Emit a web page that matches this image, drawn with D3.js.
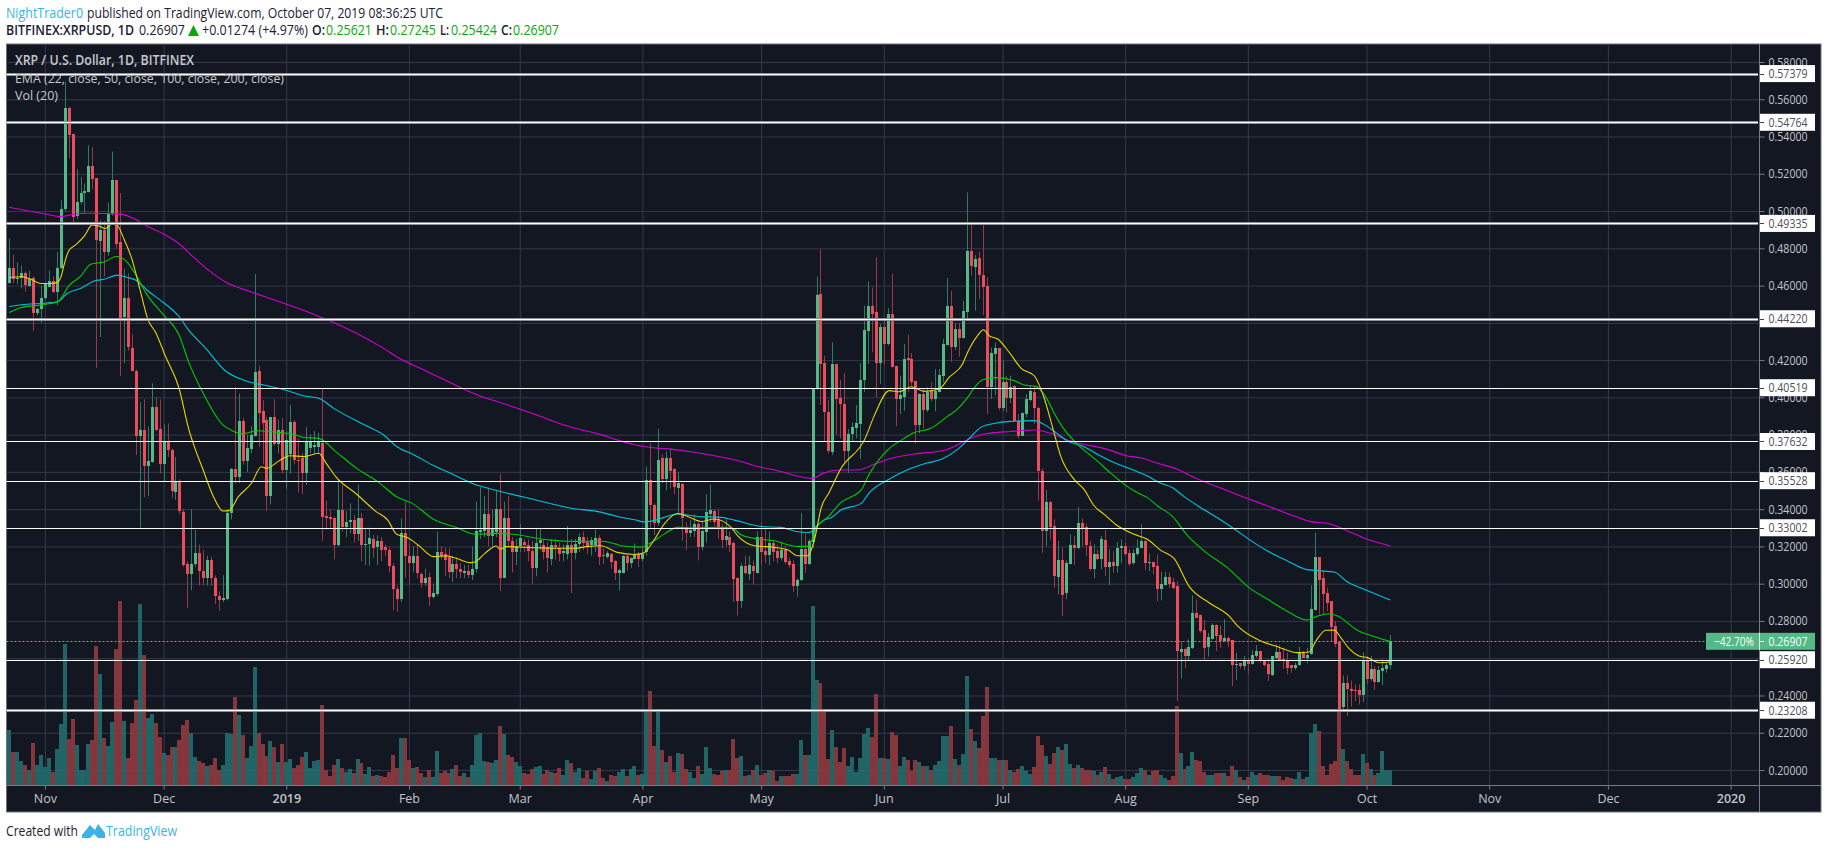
<!DOCTYPE html>
<meta charset="utf-8">
<style>
html, body { margin: 0; background: #fff; }
svg { display: block; }
text { font-family: "Open Sans", sans-serif; }
.grid line { stroke: #343949; }
.grid path { display: none; }
.price-axis path, .time-axis path { display: none; }
.price-axis line, .time-axis line { stroke: #787b86; }
.price-axis text, .time-axis text { fill: #c3c5cb; font-size: 12.5px; font-family: "Open Sans", sans-serif; }
</style>
<svg width="1828" height="849"></svg>
<script src="https://d3js.org/d3.v7.min.js"></script>
<script>

var firstBar = new Date(Date.UTC(2018, 9, 23));

var opens = [
.4615,.4697,.4634,.4640,.4665,.4600,.4640,.4453,.4473,.4536,
.4590,.4627,.4565,.4697,.5010,.5552,.5412,.4975,.5046,.5098,
.5100,.5240,.5177,.4840,.4897,.4779,.4982,.5165,.4832,.4430,
.4536,.4265,.4142,.3795,.3825,.3630,.3655,.3950,.3830,.3645,
.3766,.3718,.3490,.3545,.3385,.3104,.3050,.3105,.3167,.3070,
.3030,.3127,.3030,.2935,.2915,.2920,.3380,.3615,.3575,.3873,
.3660,.3725,.3795,.4142,.3925,.3877,.3470,.3893,.3750,.3825,
.3610,.3695,.3866,.3665,.3672,.3595,.3730,.3735,.3732,.3755,
.3362,.3360,.3350,.3210,.3395,.3305,.3330,.3340,.3265,.3350,
.3205,.3215,.3240,.3195,.3230,.3195,.3180,.3095,.2970,.2920,
.3270,.3150,.3110,.3150,.3050,.3005,.3037,.2930,.2945,.3170,
.3160,.3145,.3065,.3105,.3080,.3055,.3070,.3045,.3077,.3280,
.3283,.3372,.3255,.3280,.3400,.3032,.3350,.3230,.3170,.3200,
.3225,.3210,.3175,.3085,.3220,.3210,.3195,.3135,.3205,.3190,
.3165,.3160,.3210,.3165,.3215,.3250,.3225,.3205,.3205,.3245,
.3153,.3145,.3160,.3120,.3055,.3060,.3150,.3110,.3132,.3160,
.3135,.3168,.3556,.3425,.3325,.3674,.3560,.3674,.3615,.3515,
.3535,.3305,.3270,.3285,.3320,.3198,.3280,.3375,.3390,.3345,
.3300,.3235,.3250,.3218,.3030,.2908,.3095,.3050,.3095,.3060,
.3250,.3175,.3155,.3218,.3175,.3140,.3182,.3120,.3105,.2990,
.3020,.3185,.3105,.3225,.4050,.4555,.4184,.3920,.3708,.4179,
.3995,.3964,.3712,.3803,.3835,.3857,.4093,.4356,.4490,.4456,
.4184,.4377,.4286,.4447,.4168,.3991,.4002,.4211,.4206,.4088,
.3851,.4018,.3934,.4038,.3991,.4027,.4116,.4283,.4490,.4272,
.4367,.4317,.4460,.4785,.4702,.4748,.4657,.4598,.4054,.4234,
.4265,.3941,.4082,.3996,.4063,.3875,.3795,.3912,.3986,.4027,
.3943,.3607,.3283,.3438,.3308,.3036,.3125,.2948,.3104,.3206,
.3190,.3327,.3306,.3200,.3077,.3157,.3131,.3232,.3089,.3116,
.3095,.3190,.3200,.3163,.3109,.3157,.3190,.3227,.3109,.3118,
.3093,.2970,.2993,.3036,.3007,.2986,.2631,.2648,.2610,.2653,
.2841,.2830,.2750,.2660,.2701,.2776,.2723,.2690,.2707,.2698,
.2562,.2576,.2558,.2588,.2567,.2612,.2639,.2590,.2567,.2508,
.2602,.2633,.2597,.2590,.2563,.2545,.2562,.2626,.2603,.2621,
.2859,.3141,.3029,.2948,.2905,.2771,.2687,.2338,.2469,.2434,
.2429,.2429,.2402,.2583,.2487,.2544,.2474,.2532,.2544,.25621];

var closes = [
.4697,.4634,.4640,.4665,.4602,.4635,.4453,.4473,.4536,.4606,
.4627,.4565,.4695,.5013,.5552,.5407,.4968,.5046,.5098,.5105,
.5240,.5171,.4845,.4897,.4779,.4983,.5165,.4822,.4427,.4536,
.4270,.4142,.3795,.3825,.3633,.3660,.3950,.3825,.3645,.3768,
.3715,.3495,.3545,.3390,.3100,.3052,.3107,.3167,.3068,.3030,
.3127,.3030,.2935,.2915,.2925,.3378,.3615,.3575,.3873,.3660,
.3730,.3800,.4138,.3915,.3865,.3470,.3893,.3750,.3825,.3610,
.3770,.3866,.3665,.3660,.3595,.3760,.3765,.3745,.3760,.3357,
.3352,.3345,.3210,.3395,.3305,.3330,.3340,.3265,.3350,.3205,
.3215,.3245,.3190,.3230,.3180,.3180,.3095,.2970,.2920,.3270,
.3150,.3110,.3150,.3055,.3005,.3030,.2930,.2950,.3170,.3150,
.3125,.3065,.3105,.3080,.3065,.3070,.3045,.3080,.3282,.3288,
.3372,.3255,.3300,.3400,.3032,.3350,.3230,.3170,.3200,.3245,
.3205,.3175,.3085,.3220,.3235,.3170,.3140,.3210,.3195,.3160,
.3175,.3205,.3165,.3215,.3250,.3220,.3200,.3235,.3245,.3145,
.3150,.3165,.3115,.3055,.3075,.3150,.3110,.3137,.3158,.3135,
.3158,.3556,.3422,.3325,.3663,.3561,.3674,.3605,.3517,.3540,
.3355,.3270,.3287,.3320,.3198,.3285,.3383,.3395,.3330,.3300,
.3235,.3255,.3210,.3025,.2908,.3095,.3057,.3100,.3067,.3250,
.3170,.3155,.3218,.3172,.3140,.3180,.3115,.3100,.2990,.3020,
.3185,.3105,.3230,.4050,.4550,.4179,.3920,.3712,.4179,.3990,
.3964,.3710,.3803,.3843,.3862,.4093,.4361,.4490,.4447,.4184,
.4377,.4286,.4447,.4165,.3991,.4013,.4204,.4199,.4081,.3851,
.4018,.3934,.4027,.3991,.4036,.4120,.4286,.4490,.4272,.4367,
.4317,.4463,.4785,.4705,.4743,.4657,.4594,.4054,.4238,.4265,
.3941,.4082,.3996,.4054,.3875,.3790,.3916,.3991,.4034,.3943,
.3607,.3283,.3438,.3304,.3041,.3125,.2939,.3109,.3206,.3190,
.3327,.3301,.3206,.3077,.3157,.3131,.3238,.3089,.3116,.3095,
.3190,.3200,.3157,.3104,.3163,.3193,.3227,.3109,.3118,.3089,
.2970,.2996,.3036,.3000,.2975,.2639,.2648,.2610,.2658,.2841,
.2818,.2744,.2656,.2712,.2776,.2717,.2692,.2707,.2690,.2562,
.2571,.2558,.2588,.2567,.2615,.2639,.2590,.2563,.2513,.2612,
.2633,.2590,.2585,.2549,.2545,.2563,.2626,.2603,.2615,.2862,
.3141,.3018,.2943,.2898,.2767,.2674,.2329,.2465,.2434,.2424,
.2424,.2402,.2583,.2487,.2540,.2472,.2535,.2547,.2562,.26907];

var highs = [
.4852,.4767,.4725,.4708,.4675,.4680,.4650,.4480,.4600,.4615,
.4680,.4650,.4780,.5057,.5693,.5560,.5412,.5224,.5183,.5148,
.5353,.5343,.5177,.4950,.4945,.5046,.5319,.5165,.5097,.4690,
.4665,.4340,.4150,.3975,.3990,.3843,.4075,.4000,.3990,.3855,
.3860,.3725,.3680,.3560,.3400,.3120,.3400,.3290,.3210,.3180,
.3150,.3145,.3045,.2960,.3045,.3400,.3620,.4055,.4020,.3890,
.3800,.3845,.4662,.4170,.3985,.3895,.3895,.3990,.3880,.3890,
.3820,.3960,.3880,.3780,.3700,.3840,.3800,.3820,.3810,.4050,
.3445,.3400,.3360,.3560,.3530,.3390,.3430,.3370,.3530,.3380,
.3300,.3300,.3260,.3260,.3250,.3210,.3200,.3110,.2990,.3350,
.3440,.3220,.3200,.3210,.3060,.3080,.3060,.3000,.3280,.3200,
.3190,.3190,.3150,.3140,.3110,.3100,.3100,.3200,.3440,.3517,
.3470,.3510,.3400,.3500,.3590,.3440,.3470,.3250,.3240,.3320,
.3240,.3240,.3230,.3300,.3300,.3240,.3220,.3240,.3240,.3220,
.3210,.3310,.3240,.3240,.3270,.3280,.3250,.3250,.3290,.3260,
.3190,.3175,.3165,.3125,.3080,.3155,.3155,.3140,.3215,.3170,
.3200,.3628,.3755,.3430,.3830,.3695,.3710,.3725,.3620,.3600,
.3540,.3330,.3340,.3370,.3330,.3330,.3480,.3530,.3400,.3400,
.3320,.3350,.3280,.3225,.3035,.3110,.3150,.3150,.3125,.3280,
.3330,.3300,.3280,.3230,.3210,.3225,.3200,.3140,.3125,.3030,
.3380,.3266,.3240,.4050,.4648,.4793,.4224,.3985,.4295,.4180,
.4095,.4130,.3830,.3866,.3959,.4184,.4492,.4623,.4590,.4751,
.4394,.4410,.4478,.4662,.4170,.4116,.4286,.4335,.4238,.4088,
.4020,.4045,.4054,.4081,.4152,.4152,.4313,.4641,.4572,.4399,
.4399,.4519,.5100,.4936,.4764,.4782,.4936,.4644,.4268,.4295,
.4265,.4197,.4116,.4116,.4065,.3911,.3920,.4018,.4063,.4059,
.3950,.3620,.3503,.3444,.3345,.3229,.3193,.3125,.3265,.3256,
.3412,.3351,.3322,.3229,.3211,.3184,.3256,.3288,.3184,.3175,
.3224,.3238,.3220,.3184,.3184,.3238,.3318,.3238,.3163,.3118,
.3157,.3064,.3064,.3059,.3032,.3014,.2687,.2656,.2701,.2937,
.2916,.2835,.2805,.2737,.2787,.2782,.2776,.2809,.2716,.2698,
.2630,.2576,.2612,.2603,.2644,.2671,.2639,.2590,.2594,.2612,
.2674,.2669,.2656,.2630,.2563,.2576,.2662,.2639,.2656,.2991,
.3274,.3141,.3068,.2979,.2905,.2800,.2687,.2508,.2508,.2481,
.2460,.2460,.2630,.2612,.2612,.2558,.2558,.2594,.2576,.27245];

var lows = [
.4610,.4613,.4610,.4585,.4567,.4595,.4356,.4440,.4400,.4525,
.4590,.4560,.4495,.4690,.5000,.5284,.4935,.4959,.5035,.4990,
.5100,.5117,.4158,.4324,.4648,.4760,.4975,.4800,.4115,.4184,
.4250,.4210,.3691,.3300,.3465,.3470,.3650,.3820,.3590,.3545,
.3680,.3460,.3450,.3375,.3090,.2870,.2965,.3090,.2990,.2990,
.2990,.2990,.2890,.2855,.2900,.2910,.3345,.3535,.3540,.3640,
.3600,.3700,.3790,.3735,.3640,.3390,.3425,.3740,.3700,.3590,
.3510,.3590,.3640,.3490,.3480,.3530,.3700,.3700,.3700,.3230,
.3290,.3300,.3130,.3200,.3280,.3250,.3270,.3220,.3230,.3120,
.3100,.3097,.3140,.3100,.3120,.3150,.3060,.2858,.2849,.2900,
.3030,.3000,.3060,.3030,.2980,.2990,.2880,.2920,.2935,.3130,
.3040,.3030,.3010,.3030,.3030,.3030,.3030,.3020,.3060,.3240,
.3250,.3200,.3200,.3250,.2960,.3030,.3200,.3060,.3100,.3170,
.3170,.3120,.3000,.3040,.3180,.3130,.3060,.3100,.3130,.3120,
.3120,.3130,.2950,.3130,.3170,.3180,.3160,.3150,.3170,.3100,
.3105,.3135,.3080,.3020,.2965,.3055,.3070,.3085,.3130,.3090,
.3120,.3150,.3293,.3260,.3310,.3540,.3500,.3510,.3480,.3370,
.3230,.3180,.3250,.3250,.3125,.3180,.3220,.3330,.3310,.3240,
.3190,.3200,.3170,.2900,.2828,.2870,.3050,.3020,.2995,.3055,
.3100,.3110,.3100,.3120,.3110,.3125,.3105,.3085,.2955,.2930,
.3015,.3060,.3100,.3190,.4040,.3960,.3760,.3700,.3690,.3800,
.3780,.3650,.3594,.3760,.3780,.3670,.4030,.4180,.4242,.4000,
.4072,.4179,.4277,.4160,.3844,.3911,.3928,.4027,.4063,.3750,
.3807,.3834,.3921,.3977,.3925,.4027,.4081,.4277,.4191,.4254,
.4218,.4317,.4412,.4653,.4465,.4528,.4442,.3911,.3991,.4013,
.3930,.3928,.3919,.3970,.3875,.3780,.3795,.3893,.3980,.3857,
.3445,.3166,.3202,.3238,.2978,.2943,.2826,.2916,.3104,.3100,
.3184,.3200,.3149,.3070,.3029,.3127,.3077,.3041,.2993,.3059,
.3059,.3109,.3150,.3095,.3100,.3150,.3190,.3073,.3068,.3050,
.2907,.2911,.2990,.2979,.2970,.2370,.2490,.2549,.2590,.2650,
.2815,.2737,.2585,.2608,.2700,.2639,.2656,.2688,.2660,.2451,
.2483,.2544,.2537,.2513,.2565,.2603,.2576,.2555,.2478,.2505,
.2594,.2585,.2544,.2513,.2522,.2537,.2560,.2600,.2572,.2618,
.2855,.2835,.2835,.2853,.2687,.2660,.2308,.2311,.2290,.2340,
.2370,.2352,.2365,.2460,.2480,.2429,.2468,.2454,.2522,.25424];

var volumes = [
166,98,100,73,61,44,126,61,91,54,
82,38,109,184,424,139,198,121,44,46,
122,136,418,334,142,118,190,409,553,193,
82,187,256,544,391,202,214,187,145,97,
91,115,115,136,181,196,156,85,73,67,
58,61,82,46,61,155,152,265,211,151,
82,118,355,157,124,88,133,115,70,124,
70,79,52,61,85,100,52,73,76,241,
46,28,61,79,52,40,49,37,79,67,
34,55,28,31,28,25,40,91,52,142,
142,76,52,55,37,25,46,25,103,37,
43,37,49,61,28,37,25,61,151,157,
73,70,67,76,178,154,91,85,70,58,
37,34,49,55,58,34,46,40,37,52,
31,76,67,40,52,22,43,19,43,52,
21,13,30,28,38,48,28,48,58,31,
34,228,283,118,221,106,70,86,38,96,
94,48,38,22,58,34,114,52,34,31,
41,44,46,138,82,88,26,31,44,61,
31,36,46,41,13,28,28,26,34,34,
136,91,91,538,314,307,221,78,166,114,
68,111,58,84,38,82,154,172,144,274,
80,82,78,160,150,58,84,76,41,76,
69,58,58,44,61,71,148,148,178,78,
61,94,328,168,133,112,206,294,81,81,
74,74,76,46,38,48,58,41,34,54,
148,121,88,64,96,114,106,122,64,51,
61,51,46,46,41,31,38,54,34,18,
24,26,19,19,24,36,52,44,31,41,
44,30,21,14,28,238,97,48,58,100,
76,71,40,31,31,36,36,36,28,56,
46,24,16,24,40,31,36,31,31,28,
28,28,16,24,21,19,40,19,24,156,
184,163,56,31,63,73,226,109,73,48,
31,31,94,66,48,31,36,103,46,44];

// [bar number, price]
var ema22 = [[0,.4643],[3,.4647],[5,.4638],[8,.4611],[10,.4611],[12,.4616],[13,.4643],[14,.4724],[15,.4786],[17,.4822],[19,.4867],[21,.4926],[23,.4917],[24.3,.4906],[26,.4931],[27,.4929],[29,.4849],[31,.4742],[33,.4581],[35,.4420],[37,.4348],[39.5,.4219],[42.9,.4049],[45.3,.3834],[49,.3610],[51.6,.3467],[54,.3390],[55.5,.3392],[57.9,.3467],[61.2,.3539],[63.7,.3628],[65,.3619],[68.5,.3664],[70.9,.3687],[74.3,.3682],[78.2,.3700],[80.1,.3646],[82.5,.3575],[87.8,.3480],[92.7,.3387],[95.6,.3342],[97.9,.3265],[100.4,.3249],[103.3,.3208],[107.2,.3145],[110.6,.3149],[113,.3136],[116.4,.3113],[117.8,.3118],[120.2,.3163],[123.1,.3202],[124,.3185],[125.6,.3199],[133.3,.3193],[140,.3190],[143,.3190],[145.9,.3199],[149.5,.3204],[153.7,.3168],[158,.3157],[160.2,.3164],[163,.3236],[165.5,.3320],[168.9,.3377],[171.4,.3361],[174.8,.3334],[178.2,.3347],[182.4,.3302],[184.1,.3257],[188.3,.3204],[193.3,.3195],[196.7,.3182],[199.2,.3150],[201.8,.3150],[203.5,.3239],[205.2,.3409],[207.2,.3490],[210,.3612],[216.3,.3780],[218.6,.3902],[222.4,.4036],[224.9,.4030],[227.9,.4057],[231.2,.4032],[235,.4045],[237.5,.4107],[240.9,.4179],[242.2,.4242],[244.7,.4331],[246.2,.4363],[247.6,.4331],[249.8,.4313],[253,.4233],[255.7,.4156],[259,.4116],[261.6,.3991],[264,.3812],[265.7,.3685],[269.1,.3560],[271.6,.3506],[274.2,.3417],[276.7,.3372],[279.6,.3318],[284.3,.3265],[287.6,.3238],[291,.3179],[294.4,.3134],[298.2,.2984],[303.2,.2898],[308.3,.2826],[310.4,.2773],[316.3,.2692],[320.5,.2662],[325.5,.2630],[328.5,.2633],[330.2,.2692],[332.7,.2750],[334.8,.2751],[336.5,.2710],[338.6,.2651],[341.1,.2612],[343.2,.2603],[346.2,.2576],[348.7,.2580],[349,.2588]];

var ema50 = [[0,.4455],[3,.4482],[8,.4496],[12.2,.4513],[15.2,.4602],[18,.4649],[20.6,.4715],[24,.4727],[27,.4756],[29.5,.4733],[31.6,.4670],[35,.4545],[39.2,.4437],[42.9,.4335],[45.3,.4192],[49,.4022],[54,.3852],[56,.3825],[58.8,.3804],[62.7,.3821],[68,.3812],[72.4,.3798],[74.3,.3785],[78.2,.3780],[82.5,.3709],[87.8,.3619],[93.1,.3548],[97.9,.3467],[101.8,.3431],[107.2,.3346],[113,.3301],[117.8,.3265],[123.6,.3270],[128.9,.3261],[133.3,.3244],[143,.3227],[149.5,.3228],[152,.3220],[154.6,.3204],[159.6,.3196],[162,.3218],[165.5,.3266],[168.9,.3302],[172.3,.3300],[179.9,.3302],[182.8,.3297],[184.9,.3263],[188.3,.3243],[193.3,.3230],[199.2,.3200],[201.8,.3200],[204.3,.3311],[206.8,.3356],[210.2,.3436],[215.3,.3503],[217.2,.3583],[222,.3718],[226.2,.3780],[228.3,.3807],[232.9,.3834],[237.1,.3898],[239.6,.3937],[242.2,.4000],[244.3,.4063],[246,.4095],[249.3,.4106],[254,.4089],[256.5,.4066],[259.4,.4059],[262,.4000],[264,.3918],[266.6,.3828],[269.5,.3757],[275,.3658],[278.4,.3592],[284.3,.3497],[287.6,.3462],[290.2,.3417],[294,.3360],[297.7,.3259],[302,.3175],[307.8,.3086],[313.3,.2979],[318,.2916],[322.2,.2862],[328,.2805],[330.6,.2826],[333.5,.2839],[335.7,.2826],[340.7,.2750],[344.9,.2716],[349,.2689]];

var ema100 = [[0,.4488],[4.6,.4500],[8,.4504],[12.2,.4513],[14.7,.4559],[18,.4584],[21.5,.4625],[24,.4634],[27.4,.4656],[29.9,.4643],[32,.4629],[35,.4572],[39.2,.4505],[42.9,.4434],[45.3,.4362],[49.6,.4264],[54.5,.4144],[59.8,.4088],[65.6,.4061],[70.4,.4036],[74.3,.4009],[78.2,.3995],[82,.3941],[89.8,.3852],[94.6,.3798],[97.9,.3736],[102.3,.3691],[107.2,.3634],[111,.3598],[116.9,.3539],[122.7,.3503],[132.3,.3453],[142,.3405],[149.5,.3384],[153.7,.3361],[158,.3343],[160.5,.3332],[163.4,.3341],[165.5,.3356],[168.9,.3374],[174,.3361],[179.9,.3356],[183.3,.3341],[190,.3307],[195,.3302],[199.2,.3279],[202.2,.3275],[204.3,.3315],[206,.3343],[207.7,.3354],[210.2,.3395],[215.3,.3431],[217.2,.3485],[222,.3557],[226.9,.3610],[231.7,.3646],[235.6,.3668],[239.5,.3718],[242.6,.3780],[245.5,.3839],[248.9,.3860],[253,.3871],[259,.3875],[261.5,.3855],[264.5,.3811],[267.4,.3766],[271.2,.3739],[275.8,.3685],[279.6,.3646],[284.3,.3608],[287.6,.3578],[291,.3539],[294,.3515],[296.9,.3467],[301.1,.3408],[305.3,.3354],[309.5,.3295],[313.3,.3238],[318,.3175],[323,.3122],[327.6,.3077],[330.6,.3070],[334.8,.3063],[338.2,.3009],[342.4,.2970],[349,.2912]];

var ema200 = [[0,.5020],[4.6,.5002],[9.5,.4983],[12.9,.4970],[16.2,.4983],[20.1,.4988],[27.9,.4985],[31.3,.4961],[35.1,.4916],[39.5,.4872],[43.3,.4818],[46.2,.4759],[50.1,.4687],[54.9,.4616],[61.2,.4566],[67,.4523],[75.3,.4460],[80.1,.4419],[94.6,.4263],[98.5,.4210],[104.3,.4152],[110.1,.4093],[118.3,.4013],[124.6,.3968],[133.3,.3905],[141,.3846],[149.5,.3800],[153.7,.3771],[158,.3746],[162.2,.3731],[167.2,.3722],[172.3,.3708],[178.2,.3687],[184.9,.3656],[188.3,.3633],[194.2,.3606],[200.9,.3570],[203,.3565],[205.6,.3592],[210,.3610],[214.3,.3610],[219.2,.3646],[223,.3673],[228.8,.3696],[236.6,.3718],[243,.3780],[246.4,.3803],[253,.3817],[259.2,.3825],[263.2,.3807],[267.4,.3771],[271.6,.3748],[277.5,.3721],[282.6,.3685],[285.9,.3676],[290.2,.3646],[295.2,.3614],[298.6,.3578],[305.3,.3520],[311.2,.3471],[318,.3417],[324.7,.3363],[328.9,.3333],[333.1,.3324],[338.2,.3283],[343.2,.3238],[349,.3202]];

var priceTicks = [.58,.56,.54,.52,.50,.48,.46,.44,.42,.40,.38,.36,.34,.32,.30,.28,.26,.24,.22,.20];
var thickLevels = [.57379,.54764,.49335,.44220,.23208];
var thinLevels = [.40519,.37632,.35528,.33002,.25920];
var lastPrice = .26907;
var monthTicks = ["2018-11-01","2018-12-01","2019-01-01","2019-02-01","2019-03-01","2019-04-01","2019-05-01","2019-06-01","2019-07-01","2019-08-01","2019-09-01","2019-10-01","2019-11-01","2019-12-01","2020-01-01"];
var monthLabels = ["Nov","Dec","2019","Feb","Mar","Apr","May","Jun","Jul","Aug","Sep","Oct","Nov","Dec","2020"];

var svg = d3.select("svg");

var plotLeft = 6.5, plotRight = 1759, plotTop = 44, paneBottom = 785, plotBottom = 812, frameRight = 1821;

var x = d3.scaleUtc()
    .domain([new Date("2018-11-01"), new Date("2020-01-01")])
    .range([44.9, 1730.6]);
var y = d3.scaleLinear().domain([.2, .58]).range([770, 62]);
var v = d3.scaleLinear().domain([0, 553]).range([paneBottom, paneBottom - 184.3]);

function barX(i) { return x(new Date(firstBar.getTime() + i * 864e5)); }
function crispY(p) { return Math.round(y(p)) + .5; }

var up = "#53b987", down = "#eb4d5c";

svg.append("rect").attr("x", plotLeft).attr("y", plotTop).attr("width", frameRight - plotLeft).attr("height", plotBottom - plotTop)
    .attr("fill", "#131722").attr("stroke", "#6f727c");

// grid
svg.append("g").attr("class", "grid").attr("transform", "translate(" + plotRight + ",0)")
    .call(d3.axisLeft(y).tickValues(priceTicks).tickSize(plotRight - plotLeft).tickFormat(""));
svg.append("g").attr("class", "grid").attr("transform", "translate(0," + paneBottom + ")")
    .call(d3.axisBottom(x).tickValues(monthTicks.map(function(d) { return new Date(d); })).tickSize(plotTop - paneBottom).tickFormat(""));

// volume
svg.append("g").selectAll("rect").data(volumes).enter().append("rect")
    .attr("x", function(d, i) { return barX(i) - 2; })
    .attr("y", function(d) { return v(d); })
    .attr("width", 4)
    .attr("height", function(d) { return paneBottom - v(d); })
    .attr("fill", function(d, i) { return closes[i] >= opens[i] ? "#226a6a" : "#8c3a3e"; })
    .attr("fill-opacity", .93)
    .style("shape-rendering", "crispEdges");

// candles
var candles = svg.append("g");
candles.selectAll("line").data(opens).enter().append("line")
    .attr("x1", function(d, i) { return Math.round(barX(i)) + .5; })
    .attr("x2", function(d, i) { return Math.round(barX(i)) + .5; })
    .attr("y1", function(d, i) { return y(highs[i]); })
    .attr("y2", function(d, i) { return y(lows[i]); })
    .attr("stroke", function(d, i) { return closes[i] >= d ? "#2f7a63" : "#96394a"; });
candles.selectAll("rect").data(opens).enter().append("rect")
    .attr("x", function(d, i) { return Math.round(barX(i)) - 1; })
    .attr("y", function(d, i) { return y(Math.max(d, closes[i])); })
    .attr("width", 3)
    .attr("height", function(d, i) { return Math.max(1, Math.abs(y(d) - y(closes[i]))); })
    .attr("fill", function(d, i) { return closes[i] >= d ? up : down; })
    .style("shape-rendering", "crispEdges");

// moving averages
var line = d3.line()
    .x(function(d) { return barX(d[0]); })
    .y(function(d) { return y(d[1]); })
    .curve(d3.curveMonotoneX);
[[ema200, "#d400d4"], [ema100, "#00c4dc"], [ema50, "#00cc00"], [ema22, "#e6d600"]].forEach(function(e) {
  svg.append("path").attr("d", line(e[0])).attr("fill", "none").attr("stroke", e[1]).attr("stroke-width", 1.1);
});

// last price line
svg.append("line").attr("x1", plotLeft).attr("x2", 1706).attr("y1", crispY(lastPrice)).attr("y2", crispY(lastPrice))
    .attr("stroke", up).attr("stroke-dasharray", "2 2");

// price axis
svg.append("line").attr("x1", plotRight + .5).attr("x2", plotRight + .5).attr("y1", plotTop).attr("y2", plotBottom).attr("stroke", "#787b86");
svg.append("line").attr("x1", plotLeft).attr("x2", frameRight).attr("y1", paneBottom + .5).attr("y2", paneBottom + .5).attr("stroke", "#787b86");
svg.append("g").attr("class", "price-axis").attr("transform", "translate(" + (plotRight + .5) + ",0)")
    .call(d3.axisRight(y).tickValues(priceTicks).tickSize(5).tickPadding(4).tickFormat(d3.format(".5f")));
svg.selectAll(".price-axis text").attr("textLength", 39).attr("lengthAdjust", "spacingAndGlyphs");
svg.append("g").attr("class", "time-axis").attr("transform", "translate(0," + (paneBottom + .5) + ")")
    .call(d3.axisBottom(x).tickValues(monthTicks.map(function(d) { return new Date(d); })).tickSize(4).tickPadding(5)
        .tickFormat(function(d, i) { return monthLabels[i]; }));
svg.selectAll(".time-axis text").style("font-weight", function(d, i) { return monthLabels[i].length == 4 ? 600 : 400; });

// fits a label to the width it has in the reference, the face there is narrower than Open Sans
function label(xPos, yPos, str, len, color, size, weight) {
  return svg.append("text").attr("x", xPos).attr("y", yPos).attr("fill", color)
      .attr("textLength", len).attr("lengthAdjust", "spacingAndGlyphs")
      .style("font-size", size + "px").style("font-weight", weight || 400).text(str);
}

// support / resistance levels
thickLevels.forEach(function(p) {
  svg.append("line").attr("x1", plotLeft).attr("x2", plotRight - 1).attr("y1", crispY(p)).attr("y2", crispY(p)).attr("stroke", "#8d8f94").attr("stroke-width", 3);
  svg.append("line").attr("x1", plotLeft).attr("x2", plotRight - 1).attr("y1", crispY(p)).attr("y2", crispY(p)).attr("stroke", "#fff").attr("stroke-width", 1);
});
thinLevels.forEach(function(p) {
  svg.append("line").attr("x1", plotLeft).attr("x2", plotRight - 1).attr("y1", crispY(p)).attr("y2", crispY(p)).attr("stroke", "#fff").attr("stroke-width", 1);
});
thickLevels.concat(thinLevels).forEach(function(p) {
  svg.append("rect").attr("x", plotRight + 1).attr("y", y(p) - 8.5).attr("width", 55).attr("height", 17).attr("fill", "#fff");
  svg.append("line").attr("x1", plotRight + 1).attr("x2", plotRight + 5).attr("y1", crispY(p)).attr("y2", crispY(p)).attr("stroke", "#444");
  label(plotRight + 9.5, y(p) + 4.5, d3.format(".5f")(p), 39, "#4a4e58", 12.5);
});

// last price labels
svg.append("rect").attr("x", 1706).attr("y", y(lastPrice) - 8.5).attr("width", 109).attr("height", 17).attr("fill", up);
svg.append("line").attr("x1", plotRight + .5).attr("x2", plotRight + .5).attr("y1", y(lastPrice) - 8.5).attr("y2", y(lastPrice) + 8.5).attr("stroke", "#fff");
svg.append("line").attr("x1", plotRight + 1).attr("x2", plotRight + 5).attr("y1", crispY(lastPrice)).attr("y2", crispY(lastPrice)).attr("stroke", "#fff");
label(plotRight + 9.5, y(lastPrice) + 4.5, "0.26907", 39, "#fff", 12.5);
label(1714, y(lastPrice) + 4.5, "\u221242.70%", 40, "#fff", 12.5);

// chart legend
label(15, 65, "XRP / U.S. Dollar, 1D, BITFINEX", 179, "#c6c8ce", 13.5, 600);
label(15, 83, "EMA (22, close, 50, close, 100, close, 200, close)", 269, "#c6c8ce", 13.5);
label(15, 100, "Vol (20)", 43, "#c6c8ce", 13.5);

// page header
var dark = "#1c2030", green = "#0aa80a", blue = "#3bb3e4";
label(6, 17.5, "NightTrader0", 77, blue, 14);
label(87, 17.5, "published on TradingView.com, October 07, 2019 08:36:25 UTC", 356, dark, 14);
label(6, 35, "BITFINEX:XRPUSD, 1D", 128, dark, 14, 600);
label(139, 35, "0.26907", 46, dark, 14);
svg.append("path").attr("d", "M188 36 L199 36 L193.5 25 Z").attr("fill", green);
label(202, 35, "+0.01274 (+4.97%)", 106, dark, 14);
label(312, 35, "O:", 13, dark, 14, 600);
label(326, 35, "0.25621", 46, green, 14);
label(376, 35, "H:", 13, dark, 14, 600);
label(390, 35, "0.27245", 46, green, 14);
label(440, 35, "L:", 9, dark, 14, 600);
label(451, 35, "0.25424", 46, green, 14);
label(501, 35, "C:", 11, dark, 14, 600);
label(513, 35, "0.26907", 46, green, 14);

// footer
label(6, 836, "Created with", 72, dark, 14);
svg.append("path").attr("d", "M82 835 L90 825 L95 830 L98 824 L105 833 L105 838 L98 838 L94 834 L90 838 L82 838 Z").attr("fill", blue);
label(106, 836, "TradingView", 71, blue, 14);

</script>
